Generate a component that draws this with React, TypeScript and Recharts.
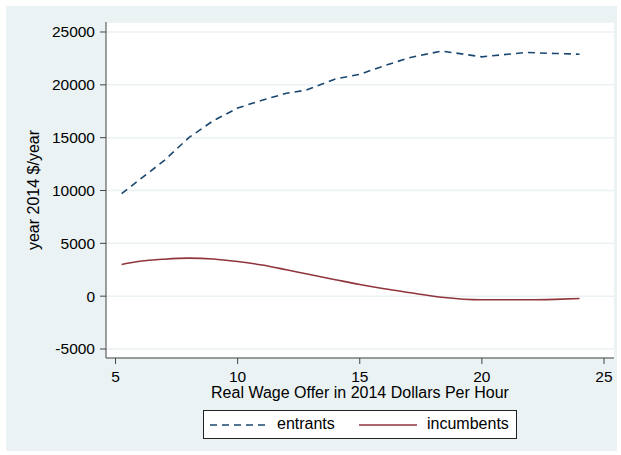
import React from 'react';
import { LineChart, Line, XAxis, YAxis, CartesianGrid, Legend } from 'recharts';

// real wage offer (2014 $/hour)
const wage = [5.25, 6, 7, 8, 9, 10, 11, 12, 12.8, 14, 15, 16, 17, 18.35, 20, 21.8, 23, 24];
// year 2014 $/year
const entrants = [9700, 11050, 12850, 15000, 16600, 17800, 18550, 19200, 19500, 20550, 21000, 21800, 22550, 23200, 22650, 23060, 22970, 22900];
const incumbents = [3000, 3300, 3500, 3600, 3520, 3280, 2950, 2500, 2120, 1560, 1100, 700, 350, -100, -340, -340, -300, -220];

const xTicks = [5, 10, 15, 20, 25];
const yTicks = [-5000, 0, 5000, 10000, 15000, 20000, 25000];

const data = wage.map((w, i) => ({ wage: w, entrants: entrants[i], incumbents: incumbents[i] }));

const FONT = '"Liberation Sans", Arial, sans-serif';
const NAVY = '#1A476F';
const MAROON = '#90353B';
const BG = '#EAF2F3';

const tickStyle = { fill: '#000', fontSize: 15.5, fontFamily: FONT };

const StataLegend = () => (
  <div
    style={{
      position: 'relative',
      width: 314,
      height: 29,
      boxSizing: 'border-box',
      background: '#fff',
      border: '1px solid #222',
      fontFamily: FONT,
      fontSize: 16,
      color: '#000',
    }}
  >
    <svg width={60} height={4} style={{ position: 'absolute', left: 6, top: 12 }}>
      <line x1={0} y1={2} x2={58} y2={2} stroke={NAVY} strokeWidth={1.6} strokeDasharray="7 5" />
    </svg>
    <span style={{ position: 'absolute', left: 73, top: 4, lineHeight: '18px' }}>entrants</span>
    <svg width={60} height={4} style={{ position: 'absolute', left: 155, top: 12 }}>
      <line x1={0} y1={2} x2={58} y2={2} stroke={MAROON} strokeWidth={1.6} />
    </svg>
    <span style={{ position: 'absolute', left: 223, top: 4, lineHeight: '18px' }}>incumbents</span>
  </div>
);

export default function App() {
  return (
    <div style={{ position: 'absolute', left: 0, top: 0, width: 621, height: 455, background: '#fff' }}>
      <div style={{ position: 'absolute', left: 6, top: 6, width: 611, height: 445, background: BG }} />
      <div style={{ position: 'absolute', left: 0, top: 0 }}>
        <LineChart width={621} height={455} data={data} margin={{ top: 22, right: 7, bottom: 57, left: 0 }}>
          <CartesianGrid vertical={false} horizontal stroke={BG} strokeWidth={1.5} fill="#fff" fillOpacity={1} />
          <XAxis
            type="number"
            dataKey="wage"
            domain={[4.61, 25.41]}
            ticks={xTicks}
            allowDataOverflow
            height={40}
            tickSize={6}
            tickMargin={7}
            stroke="#444"
            tick={tickStyle}
            label={{
              value: 'Real Wage Offer in 2014 Dollars Per Hour',
              position: 'insideBottom',
              offset: 0,
              style: { fill: '#000', fontSize: 16, fontFamily: FONT },
            }}
          />
          <YAxis
            type="number"
            domain={[-5852, 25946]}
            ticks={yTicks}
            allowDataOverflow
            width={106}
            tickSize={6}
            tickMargin={5}
            stroke="#444"
            tick={tickStyle}
            label={{
              value: 'year 2014 $/year',
              angle: -90,
              position: 'insideLeft',
              offset: 33,
              style: { fill: '#000', fontSize: 16, fontFamily: FONT, textAnchor: 'middle' },
            }}
          />
          <Legend
            layout="horizontal"
            verticalAlign="middle"
            align="center"
            content={() => <StataLegend />}
            wrapperStyle={{ top: 410, left: 203, width: 314, height: 29 }}
          />
          <Line
            type="linear"
            dataKey="entrants"
            stroke={NAVY}
            strokeWidth={1.6}
            strokeDasharray="7 5"
            dot={false}
            activeDot={false}
            isAnimationActive={false}
          />
          <Line
            type="monotone"
            dataKey="incumbents"
            stroke={MAROON}
            strokeWidth={1.6}
            dot={false}
            activeDot={false}
            isAnimationActive={false}
          />
        </LineChart>
      </div>
    </div>
  );
}
